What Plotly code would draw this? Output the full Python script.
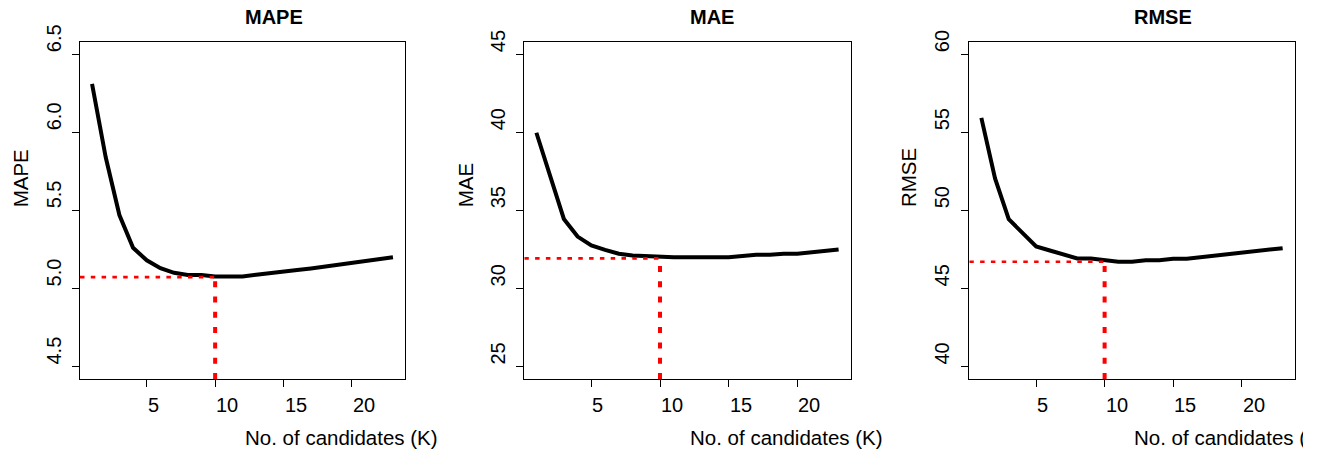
import plotly.graph_objects as go

# ---------------- data ----------------
K = list(range(1, 24))
mape = [6.31, 5.84, 5.47, 5.26, 5.18, 5.13, 5.10, 5.086, 5.086, 5.077, 5.077, 5.077,
        5.088, 5.10, 5.11, 5.118, 5.128, 5.14, 5.152, 5.165, 5.175, 5.188, 5.199]
mae = [39.97, 37.1, 34.45, 33.32, 32.75, 32.47, 32.22, 32.11, 32.05, 31.99, 31.99, 31.99,
       31.99, 31.99, 31.99, 32.07, 32.15, 32.15, 32.22, 32.22, 32.30, 32.39, 32.50]
rmse = [55.92, 52.04, 49.43, 48.53, 47.69, 47.43, 47.18, 46.92, 46.92, 46.84, 46.71, 46.71,
        46.81, 46.81, 46.90, 46.90, 46.99, 47.07, 47.16, 47.26, 47.39, 47.49, 47.58]

titles = ["MAPE", "MAE", "RMSE"]
best_k = 10
ref_values = [5.073, 31.92, 46.71]

x_ticks = [5, 10, 15, 20]
y_ticks = [[4.5, 5.0, 5.5, 6.0, 6.5], [25, 30, 35, 40, 45], [40, 45, 50, 55, 60]]
y_tick_text = [["4.5", "5.0", "5.5", "6.0", "6.5"], ["25", "30", "35", "40", "45"],
               ["40", "45", "50", "55", "60"]]
y_limits = [[4.5, 6.5], [25, 45], [40, 60]]
x_label = "No. of candidates (K)"

# ---------------- layout ----------------
W, H = 1327, 450
box_left = [80, 524.3, 969.3]
box_right = [405, 850.7, 1294.7]
box_top, box_bottom = 41.7, 379.0
ylab_x = [20, 465, 908.3]
ytick_x = [54, 498, 942]
crop_x = 1303  # the reference picture is cropped here

FONT = "Liberation Sans, Arial, sans-serif"

series = [mape, mae, rmse]
fig = go.Figure()
annotations = []

def ext(lo, hi):
    d = (hi - lo) * 0.04
    return [lo - d, hi + d]

x_range = ext(min(K), max(K))

for i in range(3):
    ax = "" if i == 0 else str(i + 1)
    xa, ya = "x" + ax, "y" + ax
    y_range = ext(*y_limits[i])

    fig.add_trace(go.Scatter(x=K, y=series[i], mode="lines", xaxis=xa, yaxis=ya,
                             line=dict(color="black", width=4), showlegend=False,
                             hoverinfo="skip"))
    # red reference lines
    fig.add_trace(go.Scatter(x=[x_range[0], best_k], y=[ref_values[i], ref_values[i]],
                             mode="lines", xaxis=xa, yaxis=ya,
                             line=dict(color="#ff0000", width=2.7, dash="4.5px,6.3px"),
                             showlegend=False, hoverinfo="skip"))
    fig.add_trace(go.Scatter(x=[best_k, best_k], y=[y_range[0], ref_values[i]],
                             mode="lines", xaxis=xa, yaxis=ya,
                             line=dict(color="#ff0000", width=4, dash="6px,9.3px"),
                             showlegend=False, hoverinfo="skip"))

    common = dict(showgrid=False, zeroline=False, showline=True, mirror=True,
                  linecolor="black", linewidth=1.3, ticks="outside", ticklen=7,
                  tickwidth=1.3, tickcolor="black", showticklabels=False)
    fig.update_layout(**{
        "xaxis" + ax: dict(domain=[box_left[i] / W, box_right[i] / W], range=x_range,
                           tickvals=x_ticks, anchor=ya, **common),
        "yaxis" + ax: dict(domain=[1 - box_bottom / H, 1 - box_top / H], range=y_range,
                           tickvals=y_ticks[i], anchor=xa, **common),
    })

    cx = (box_left[i] + box_right[i]) / 2
    # title (bold, left-aligned at box centre like R adj=0)
    annotations.append(dict(text="<b>" + titles[i] + "</b>", xref="paper", yref="paper",
                            x=cx / W, y=1 - 17.3 / H, xanchor="left", yanchor="middle",
                            showarrow=False, font=dict(family=FONT, size=20, color="black")))
    # x label
    annotations.append(dict(text=x_label, xref="paper", yref="paper",
                            x=cx / W, y=1 - 437 / H, xanchor="left", yanchor="middle",
                            showarrow=False, font=dict(family=FONT, size=20.5, color="black")))
    # y label
    annotations.append(dict(text=titles[i], xref="paper", yref="paper", textangle=-90,
                            x=ylab_x[i] / W, y=1 - 209.3 / H, xanchor="center",
                            yanchor="bottom", showarrow=False,
                            font=dict(family=FONT, size=20.5, color="black")))
    # x tick labels
    for t in x_ticks:
        annotations.append(dict(text=str(t), xref=xa, yref="paper", x=t, y=1 - 405 / H,
                                xanchor="left", yanchor="middle", showarrow=False,
                                xshift=-1, font=dict(family=FONT, size=20, color="black")))
    # y tick labels (rotated)
    for v, s in zip(y_ticks[i], y_tick_text[i]):
        annotations.append(dict(text=s, xref="paper", yref=ya, x=ytick_x[i] / W, y=v,
                                textangle=-90, xanchor="center", yanchor="bottom",
                                showarrow=False,
                                font=dict(family=FONT, size=20, color="black")))

# white strip reproducing the crop at the right edge of the reference picture
annotations.append(dict(text=" ", xref="paper", yref="paper", x=crop_x / W, y=1 - 437 / H,
                        xanchor="left", yanchor="middle", width=W - crop_x, height=34,
                        bgcolor="white", borderwidth=0, borderpad=0, showarrow=False,
                        font=dict(family=FONT, size=10, color="white")))

fig.update_layout(width=W, height=H, margin=dict(l=0, r=0, t=0, b=0),
                  paper_bgcolor="white", plot_bgcolor="white",
                  annotations=annotations, showlegend=False)

fig.write_html("out.html", config={"displayModeBar": False},
               post_script="document.body.style.margin='0';"
                           "document.body.style.overflow='hidden';")
